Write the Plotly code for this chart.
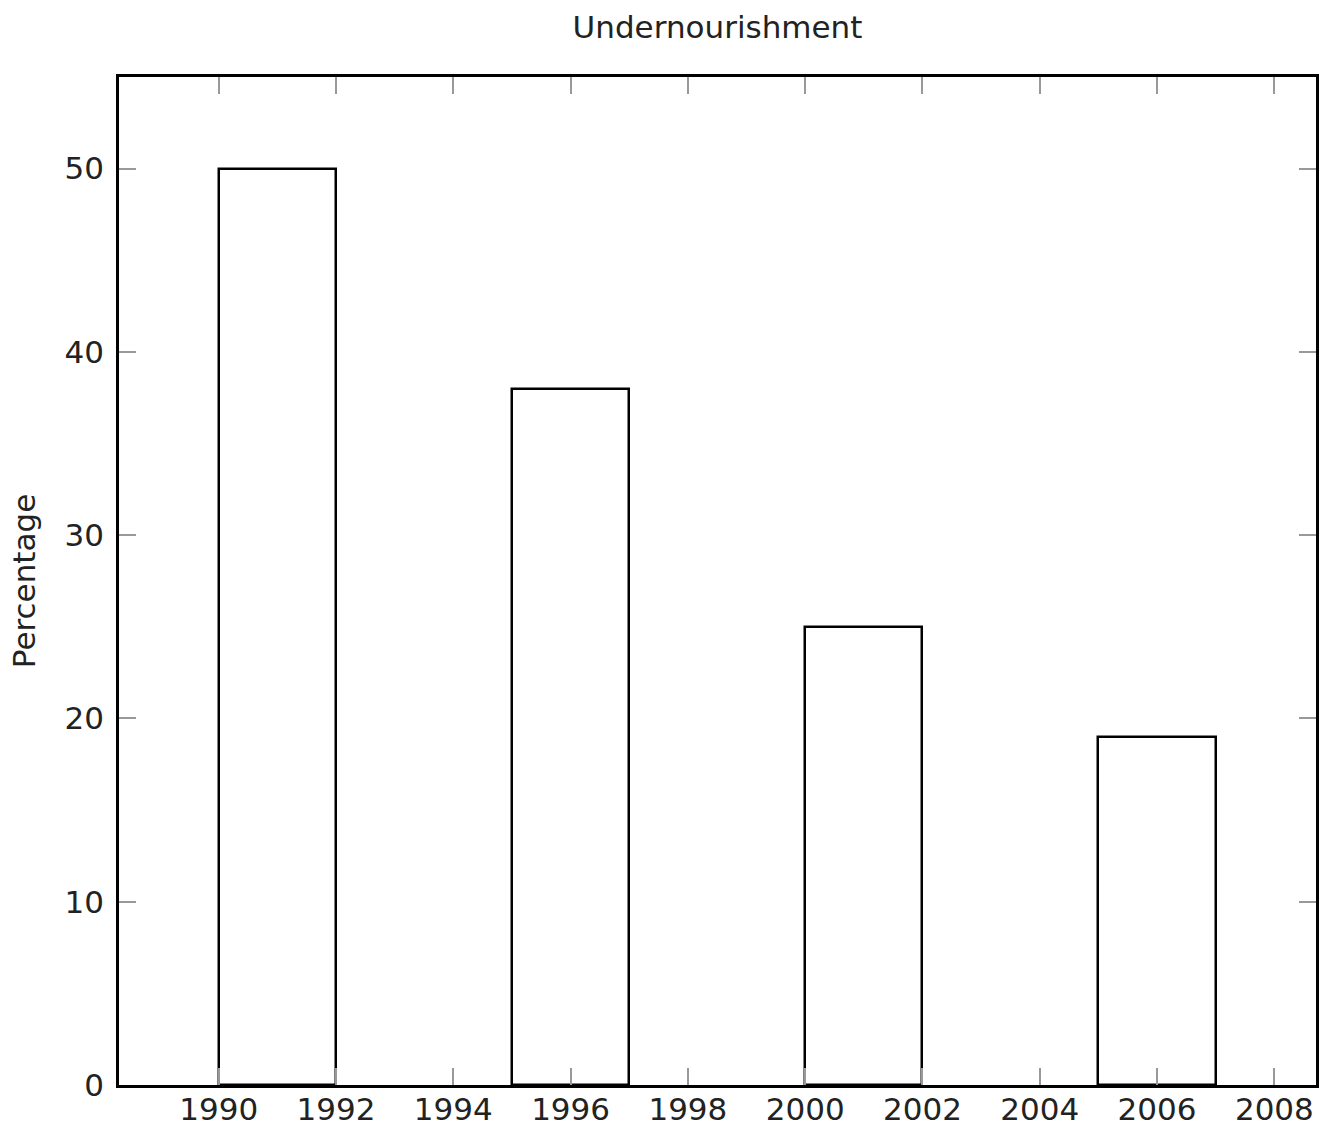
import plotly.graph_objects as go

years = [1990, 1995, 2000, 2005]
values = [50, 38, 25, 19]
bar_width_years = 2
x_ticks = [1990, 1992, 1994, 1996, 1998, 2000, 2002, 2004, 2006, 2008]
y_ticks = [0, 10, 20, 30, 40, 50]

fig = go.Figure()
fig.add_trace(go.Bar(
    x=years, y=values, width=[bar_width_years] * len(years), offset=0,
    marker=dict(color="white", line=dict(color="black", width=2.5)),
))

font = "DejaVu Sans, sans-serif"
W, H = 1328, 1128
fig.update_layout(
    width=W, height=H,
    margin=dict(l=118.5, r=11.5, t=76.5, b=43),
    paper_bgcolor="white", plot_bgcolor="white",
    showlegend=False,
    title=dict(text="Undernourishment", x=0.5, xanchor="center", y=1 - 27 / H, yanchor="middle",
               xref="paper", font=dict(family=font, size=31, color="#222")),
    font=dict(family=font, color="#222"),
    bargap=0,
)
axis_common = dict(showline=True, linecolor="black", linewidth=2.5, mirror="ticks",
                   ticks="inside", ticklen=17, tickwidth=1.5, tickcolor="#999",
                   showgrid=False, zeroline=False, automargin=False,
                   tickfont=dict(family=font, size=31, color="#222"))
fig.update_xaxes(range=[1988.3, 2008.71], tickvals=x_ticks, ticktext=[str(v) for v in x_ticks],
                 ticklabelstandoff=-5, **axis_common)
fig.update_yaxes(range=[0, 55], tickvals=y_ticks, ticktext=[str(v) for v in y_ticks],
                 ticklabelstandoff=6,
                 title=dict(text="Percentage", font=dict(family=font, size=31, color="#222"), standoff=20),
                 **axis_common)

fig.write_html("out.html", config={"displayModeBar": False},
               post_script="document.body.style.margin='0';document.body.style.overflow='hidden';")
